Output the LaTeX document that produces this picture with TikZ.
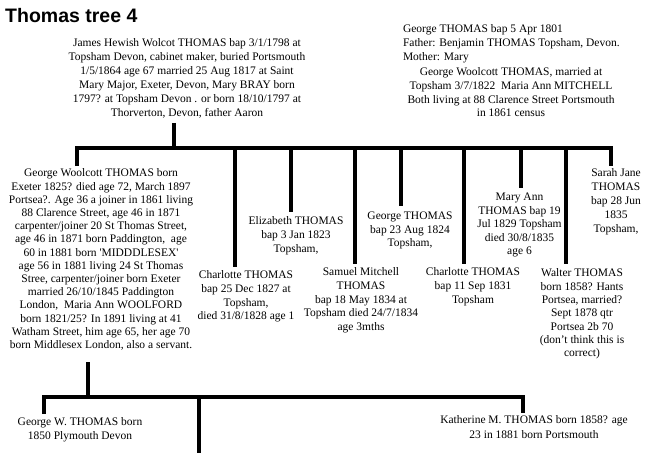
\documentclass[tikz,border=0pt]{standalone}
\usepackage{fontspec}
\setmainfont{Liberation Serif}
\newfontfamily\titlefont{Liberation Sans}
\begin{document}
\begin{tikzpicture}[x=1pt,y=-1pt]
\tikzset{
  person/.style={inner sep=0pt, outer sep=0pt, align=center, anchor=north,
                 font=\fontsize{11.5}{13.6}\selectfont},
  bus/.style={draw=black, line width=3.6pt},
}
\useasboundingbox (0,0) rectangle (647,453);

% title
\node[inner sep=0pt, anchor=base west, font=\titlefont\bfseries\fontsize{19.5}{22}\selectfont] (title) at (5,22) {Thomas tree 4};

% parents
\node[person, font=\fontsize{11.5}{14}\selectfont] (james) at (187,39) {James Hewish Wolcot THOMAS bap 3/1/1798 at\\
Topsham Devon, cabinet maker, buried Portsmouth\\
1/5/1864 age 67 married 25 Aug 1817 at Saint\\
Mary Major, Exeter, Devon, Mary BRAY born\\
1797? at Topsham Devon . or born 18/10/1797 at\\
Thorverton, Devon, father Aaron};

\node[person, align=left, anchor=north west] (gtop) at (403,25) {George THOMAS bap 5 Apr 1801\\
Father: Benjamin THOMAS Topsham, Devon.\\
Mother: Mary};

\node[person] (married) at (511,68) {George Woolcott THOMAS, married at\\
Topsham 3/7/1822~ Maria Ann MITCHELL\\
Both living at 88 Clarence Street Portsmouth\\
in 1861 census};

% children
\node[person, font=\fontsize{11.5}{13.2}\selectfont] (gw) at (101,169) {George Woolcott THOMAS born\\
Exeter 1825? died age 72, March 1897\\
Portsea?. Age 36 a joiner in 1861 living\\
88 Clarence Street, age 46 in 1871\\
carpenter/joiner 20 St Thomas Street,\\
age 46 in 1871 born Paddington,~ age\\
60 in 1881 born \textquotesingle MIDDDLESEX\textquotesingle\\
age 56 in 1881 living 24 St Thomas\\
Stree, carpenter/joiner born Exeter\\
married 26/10/1845 Paddington\\
London,~ Maria Ann WOOLFORD\\
born 1821/25? In 1891 living at 41\\
Watham Street, him age 65, her age 70\\
born Middlesex London, also a servant.};

\node[person] (charlotteA) at (246,271) {Charlotte THOMAS\\ bap 25 Dec 1827 at\\ Topsham,\\ died 31/8/1828 age 1};
\node[person] (elizabeth) at (296,217) {Elizabeth THOMAS\\ bap 3 Jan 1823\\ Topsham,};
\node[person] (samuel) at (361,268) {Samuel Mitchell\\ THOMAS\\ bap 18 May 1834 at\\ Topsham died 24/7/1834\\ age 3mths};
\node[person] (georgeB) at (410,212) {George THOMAS\\ bap 23 Aug 1824\\ Topsham,};
\node[person] (charlotteB) at (473,268) {Charlotte THOMAS\\ bap 11 Sep 1831\\ Topsham};
\node[person] (maryann) at (519.5,193) {Mary Ann\\ THOMAS bap 19\\ Jul 1829 Topsham\\ died 30/8/1835\\ age 6};
\node[person, font=\fontsize{11.5}{13.3}\selectfont] (walter) at (582,269) {Walter THOMAS\\ born 1858? Hants\\ Portsea, married?\\ Sept 1878 qtr\\ Portsea 2b 70\\ (don't think this is\\ correct)};
\node[person, font=\fontsize{11.5}{14}\selectfont] (sarah) at (616,169) {Sarah Jane\\ THOMAS\\ bap 28 Jun\\ 1835\\ Topsham,};

% grandchildren
\node[person, font=\fontsize{11.5}{14}\selectfont] (georgeW) at (80,418) {George W. THOMAS born\\ 1850 Plymouth Devon};
\node[person, font=\fontsize{11.5}{14.5}\selectfont] (katherine) at (534,416) {Katherine M. THOMAS born 1858? age\\ 23 in 1881 born Portsmouth};

% junctions of the upper family line
\coordinate (jv) at (174,148);
\coordinate (b0) at (77,148);
\coordinate (b1) at (235,148);
\coordinate (b2) at (291,148);
\coordinate (b3) at (355,148);
\coordinate (b4) at (401,148);
\coordinate (b5) at (464,148);
\coordinate (b6) at (521,148);
\coordinate (b7) at (566,148);
\coordinate (b8) at (611,148);

\draw[bus, shorten <=4pt] (james.south -| jv) -- (jv);
\draw[bus, shorten <=3pt, shorten >=3pt] (gw.north -| b0) -- (b0) -- (b8) -- (sarah.north -| b8);
\draw[bus, shorten >=4pt] (b1) -- (b1 |- charlotteA.north);
\draw[bus, shorten >=5pt] (b2) -- (b2 |- elizabeth.north);
\draw[bus, shorten >=4pt] (b3) -- (b3 |- samuel.north);
\draw[bus, shorten >=6pt] (b4) -- (b4 |- georgeB.north);
\draw[bus, shorten >=4pt] (b5) -- (b5 |- charlotteB.north);
\draw[bus, shorten >=5pt] (b6) -- (b6 |- maryann.north);
\draw[bus, shorten >=5pt] (b7) -- (b7 |- walter.north);

% junctions of the lower family line
\coordinate (gv) at (88,397);
\coordinate (c0) at (44,397);
\coordinate (c1) at (199,397);
\coordinate (c2) at (523,397);
\coordinate (cend) at (199,453);

\draw[bus, shorten <=12pt] (gw.south -| gv) -- (gv);
\draw[bus, shorten <=4pt, shorten >=3pt] (georgeW.north -| c0) -- (c0) -- (c2) -- (katherine.north -| c2);
\draw[bus] (c1) -- (cend);
\end{tikzpicture}
\end{document}
